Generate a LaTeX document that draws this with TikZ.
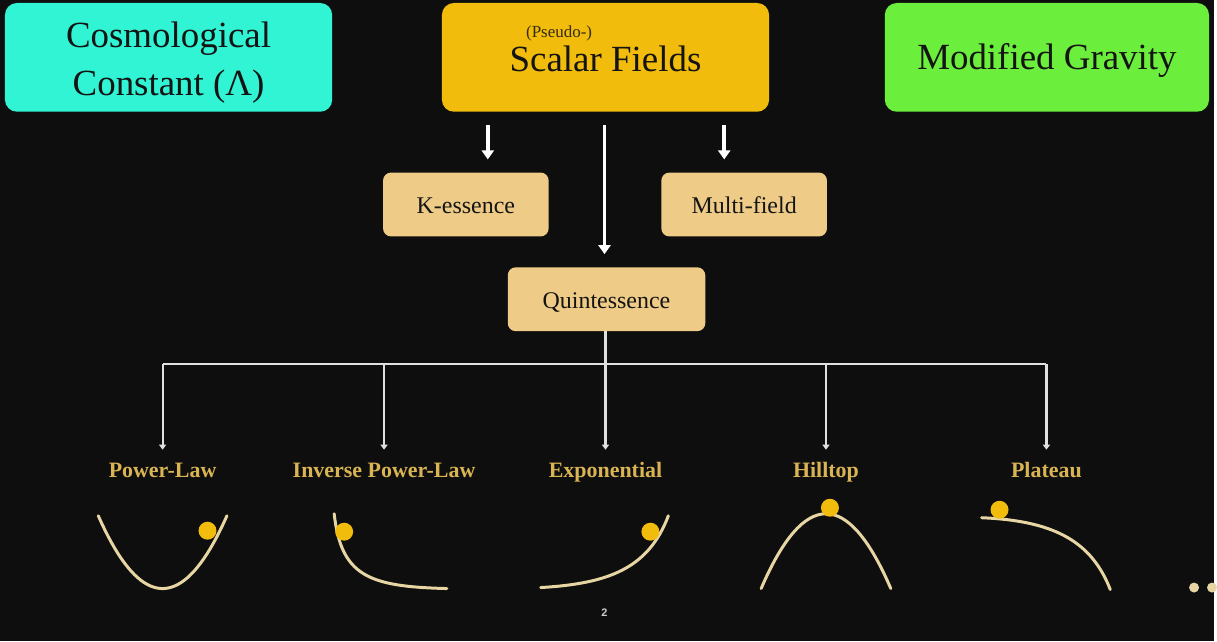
\documentclass[tikz,border=0pt]{standalone}
\usepackage{fontspec}
\setmainfont{Liberation Serif}
\setsansfont{Liberation Sans}
\usetikzlibrary{arrows.meta}

\definecolor{bgdark}{HTML}{0E0E0E}
\definecolor{lambdateal}{HTML}{30F4D3}
\definecolor{scalargold}{HTML}{F2BC0C}
\definecolor{gravgreen}{HTML}{6BEF3C}
\definecolor{subtan}{HTML}{EECB86}
\definecolor{labelgold}{HTML}{D9B452}
\definecolor{curvetan}{HTML}{E8D5A4}
\definecolor{textdark}{HTML}{141414}

\begin{document}
\begin{tikzpicture}[x=1pt, y=-1pt,
  topbox/.style={rounded corners=12pt, minimum width=328pt, minimum height=109pt,
    text=textdark, font=\fontsize{37}{48}\selectfont, align=center, inner sep=0pt},
  subbox/.style={rounded corners=8pt, fill=subtan, minimum width=166pt, minimum height=64pt,
    text=textdark, font=\fontsize{24}{28}\selectfont, inner sep=0pt,
    text height=19pt, text depth=0pt},
  bigarrow/.style={white, line width=3.5pt, -{Triangle[width=12pt,length=9pt]},
    shorten <=13pt, shorten >=13pt},
  treeline/.style={white!88!black, line width=2.2pt},
  treearrow/.style={treeline, -{Triangle[width=7pt,length=5pt]}, shorten >=12pt},
  potlabel/.style={text=labelgold, font=\fontsize{22}{26}\selectfont\bfseries,
    anchor=base, inner sep=0pt, text height=16pt, text depth=5pt},
  potcurve/.style={curvetan, line width=3pt, line cap=round},
  ball/.style={fill=scalargold}]

  \fill[bgdark] (0,0) rectangle (1217,643);

  % the three families
  \node[topbox, fill=lambdateal] (lambda) at (169,57.5)
    {\rule{0pt}{36pt}Cosmological\\Constant (Λ)};
  \node[topbox, fill=scalargold] (scalar) at (607,57.5) {\rule{0pt}{29pt}Scalar Fields};
  \node[text=textdark!85!scalargold, font=\fontsize{17}{20}\selectfont, inner sep=0pt]
    (pseudo) at (560.5,34) {(Pseudo-)};
  \node[topbox, fill=gravgreen, minimum width=325pt] (gravity) at (1049.5,57.5)
    {\rule{0pt}{33pt}Modified Gravity};

  \node[subbox] (kess) at (467,205) {K-essence};
  \node[subbox] (multi) at (746,205) {Multi-field};
  \node[subbox, minimum width=198pt] (quint) at (608,300) {Quintessence};

  \draw[bigarrow] ([xshift=22pt]kess.north |- scalar.south) -- ([xshift=22pt]kess.north);
  \draw[bigarrow] ([xshift=-20pt]multi.north |- scalar.south) -- ([xshift=-20pt]multi.north);
  \draw[bigarrow] ([xshift=-2pt]quint.north |- scalar.south) -- ([xshift=-2pt]quint.north);

  % potentials
  \node[potlabel] (power) at (163,479) {Power-Law};
  \node[potlabel] (inverse) at (385,479) {Inverse Power-Law};
  \node[potlabel] (expo) at (607,479) {Exponential};
  \node[potlabel] (hill) at (828,479) {Hilltop};
  \node[potlabel] (plateau) at (1049,479) {Plateau};

  \coordinate (bar) at (607,365);
  \draw[treeline] (bar -| power) -- (bar -| plateau);
  \draw[treearrow] (expo |- quint.south) -- (expo.north);
  \foreach \n in {power,inverse,hill,plateau}
    \draw[treearrow] (bar -| \n) -- (\n.north);

  \draw[potcurve] plot[domain=-1:1, samples=40] ({163+64.5*\x}, {590-73*\x*\x});
  \draw[potcurve] (335,515) .. controls (342,578) and (370,588) .. (448,590);
  \draw[potcurve] (542,589) .. controls (610,585) and (650,570) .. (670,517);
  \draw[potcurve] (763,590) .. controls (806,490) and (850,490) .. (893,590);
  \draw[potcurve] (984,519) .. controls (1060,522) and (1095,545) .. (1113,591);

  \fill[ball] (208,532) circle[radius=9pt];
  \fill[ball] (345,533) circle[radius=9pt];
  \fill[ball] (652,533) circle[radius=9pt];
  \fill[ball] (832,509) circle[radius=9pt];
  \fill[ball] (1002,511) circle[radius=9pt];

  \fill[curvetan] (1197,589) circle[radius=5pt];
  \fill[curvetan] (1215,589) circle[radius=5pt];

  \node[font=\sffamily\bfseries\fontsize{11}{13}\selectfont, text=white!80!black]
    (pagenum) at (606,614) {2};
\end{tikzpicture}
\end{document}
